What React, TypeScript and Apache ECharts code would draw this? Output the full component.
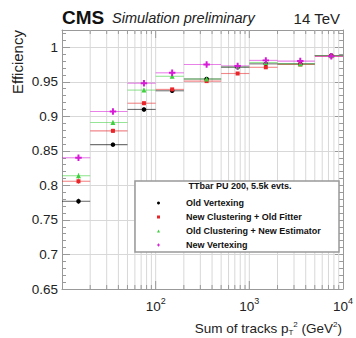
import React, { useEffect, useRef } from "react";
import * as echarts from "echarts";

// ---- data ----
const binLow = [10, 20, 50, 100, 200, 500, 1000, 2000, 5000];
const binHigh = [20, 50, 100, 200, 500, 1000, 2000, 5000, 10000];
const binCenter = [15, 35, 75, 150, 350, 750, 1500, 3500, 7500];

const oldVertexing = [0.777, 0.859, 0.91, 0.937, 0.954, 0.971, 0.976, 0.976, 0.988];
const newClusteringOldFitter = [0.806, 0.879, 0.919, 0.939, 0.951, 0.962, 0.971, 0.975, 0.987];
const oldClusteringNewEstimator = [0.814, 0.891, 0.938, 0.958, 0.954, 0.972, 0.978, 0.976, 0.988];
const newVertexing = [0.84, 0.907, 0.948, 0.963, 0.975, 0.973, 0.981, 0.98, 0.987];
const errY = [0.004, 0.003, 0.003, 0.002, 0.002, 0.002, 0.002, 0.002, 0.003];

const seriesNames = [
  "Old Vertexing",
  "New Clustering + Old Fitter",
  "Old Clustering + New Estimator",
  "New Vertexing",
];
const seriesValues = [oldVertexing, newClusteringOldFitter, oldClusteringNewEstimator, newVertexing];

const gridX = [20, 30, 40, 50, 60, 70, 80, 90, 100, 200, 300, 400, 500, 600, 700, 800, 900, 1000, 2000, 3000, 4000, 5000, 6000, 7000, 8000, 9000];
const xMin = 10;
const xMax = 10000;
const yMin = 0.65;
const yMax = 1.025;

const legendHeader = "TTbar PU 200, 5.5k evts.";

const FONT = "'Liberation Sans', Arial, Helvetica, sans-serif";

const colors = ["#000000", "#e8262a", "#3fcf3f", "#d61ad6"];
const starPath =
  "path://M-1,-0.3 L-0.3,-0.3 L-0.3,-1 L0.3,-1 L0.3,-0.3 L1,-0.3 L1,0.3 L0.3,0.3 L0.3,1 L-0.3,1 L-0.3,0.3 L-1,0.3 Z";
const symbols = ["circle", "rect", "triangle", starPath];
const symbolSizes = [4.5, 4, 5, 6.5];

export default function App() {
  const ref = useRef<HTMLDivElement>(null);
  useEffect(() => {
    if (!ref.current) return;
    const chart = echarts.init(ref.current, undefined, { renderer: "svg" });

    const errorSeries = seriesValues.map((vals, i) => ({
      type: "custom",
      name: "err" + i,
      coordinateSystem: "cartesian2d",
      silent: true,
      z: 3,
      data: vals.map((v, k) => [binLow[k], binHigh[k], v, errY[k], binCenter[k]]),
      encode: { x: [0, 1], y: 2 },
      renderItem: (params: any, api: any) => {
        const y = api.value(2);
        const e = api.value(3);
        const c = api.value(4);
        const lo = api.coord([api.value(0), y]);
        const hi = api.coord([api.value(1), y]);
        const t = api.coord([c, y + e]);
        const b = api.coord([c, y - e]);
        const style = { stroke: colors[i], lineWidth: 1.1, opacity: 0.55 };
        return {
          type: "group",
          children: [
            { type: "line", shape: { x1: lo[0], y1: lo[1], x2: hi[0], y2: hi[1] }, style },
            { type: "line", shape: { x1: t[0], y1: t[1], x2: b[0], y2: b[1] }, style },
          ],
        };
      },
    }));

    const pointSeries = seriesValues.map((vals, i) => ({
      type: "scatter",
      name: seriesNames[i],
      symbol: symbols[i],
      symbolSize: symbolSizes[i],
      itemStyle: { color: colors[i], opacity: 1 },
      z: 5 + i,
      data: vals.map((v, k) => [binCenter[k], v]),
    }));

    const gridSeries = {
      type: "custom",
      name: "grid",
      coordinateSystem: "cartesian2d",
      silent: true,
      z: 1,
      data: gridX.map((x) => [x, yMin]),
      encode: { x: 0, y: 1 },
      renderItem: (params: any, api: any) => {
        const x = api.value(0);
        const b = api.coord([x, yMin]);
        const t = api.coord([x, yMax]);
        const isMajor = x === 100 || x === 1000;
        const tl = isMajor ? 8 : 4;
        return {
          type: "group",
          children: [
            { type: "line", shape: { x1: b[0], y1: b[1], x2: t[0], y2: t[1] }, style: { stroke: "#d8d8d8", lineWidth: 1 } },
            { type: "line", shape: { x1: b[0], y1: b[1], x2: b[0], y2: b[1] - tl }, style: { stroke: "#999", lineWidth: 1 } },
            { type: "line", shape: { x1: t[0], y1: t[1], x2: t[0], y2: t[1] + tl }, style: { stroke: "#999", lineWidth: 1 } },
          ],
        };
      },
    };

    const yFmt = (v: number) => {
      const r = Math.round(v * 100) / 100;
      if (Math.abs(r * 20 - Math.round(r * 20)) > 1e-6) return "";
      return String(parseFloat(r.toFixed(2)));
    };

    const option: any = {
      animation: false,
      grid: { left: 62, right: 13, top: 30, bottom: 49, containLabel: false },
      xAxis: [
        {
          type: "log",
          logBase: 10,
          min: xMin,
          max: xMax,
          axisLine: { show: true, lineStyle: { color: "#999", width: 1 } },
          axisTick: { show: false },
          splitLine: { show: false },
          axisLabel: {
            margin: 7,
            formatter: (v: number) => {
              const e = Math.round(Math.log10(v));
              if (e < 2) return "";
              return "{b|10}{s|" + e + "}";
            },
            rich: {
              b: { fontSize: 13.5, fontFamily: FONT, color: "#222", verticalAlign: "bottom" },
              s: { fontSize: 9, fontFamily: FONT, color: "#222", verticalAlign: "top", padding: [0, 0, 8, 0] },
            },
            showMinLabel: false,
          },
        },
        {
          type: "log",
          logBase: 10,
          min: xMin,
          max: xMax,
          position: "top",
          axisLine: { show: true, lineStyle: { color: "#999", width: 1 } },
          axisTick: { show: false },
          axisLabel: { show: false },
          splitLine: { show: false },
        },
      ],
      yAxis: [
        {
          type: "value",
          min: yMin,
          max: yMax,
          interval: 0.05,
          axisLine: { show: true, lineStyle: { color: "#999", width: 1 } },
          axisTick: { show: true, inside: true, length: 8, lineStyle: { color: "#999" } },
          minorTick: { show: true, splitNumber: 5, length: 4, lineStyle: { color: "#999" } },
          splitLine: { show: true, lineStyle: { color: "#d8d8d8", width: 1 } },
          axisLabel: {
            formatter: yFmt,
            fontSize: 13.5,
            fontFamily: FONT,
            color: "#222",
            margin: 4,
            showMaxLabel: false,
          },
        },
        {
          type: "value",
          min: yMin,
          max: yMax,
          interval: 0.05,
          position: "right",
          axisLine: { show: true, lineStyle: { color: "#999", width: 1 } },
          axisTick: { show: true, inside: true, length: 8, lineStyle: { color: "#999" } },
          minorTick: { show: true, splitNumber: 5, length: 4, lineStyle: { color: "#999" } },
          splitLine: { show: false },
          axisLabel: { show: false },
        },
      ],
      legend: {
        data: seriesNames,
        orient: "vertical",
        left: 157,
        top: 198,
        padding: 0,
        z: 60,
        itemWidth: 3,
        itemHeight: 3,
        itemGap: 4,
        selectedMode: false,
        textStyle: {
          fontFamily: FONT,
          fontSize: 9,
          fontWeight: "bold",
          color: "#111",
          lineHeight: 10,
          padding: [0, 0, 0, 21],
        },
      },
      graphic: [
        {
          type: "rect",
          z: 50,
          shape: { x: 135, y: 181, width: 204, height: 71 },
          style: { fill: "#fff", stroke: "#999", lineWidth: 1.5 },
        },
        {
          type: "text",
          z: 51,
          x: 240,
          y: 186,
          style: {
            text: legendHeader,
            fontFamily: FONT,
            fontSize: 9,
            fontWeight: "bold",
            fill: "#111",
            textAlign: "center",
            textVerticalAlign: "middle",
          },
        },
        {
          type: "text",
          x: 62,
          y: 17,
          style: {
            text: "CMS",
            fontFamily: FONT,
            fontSize: 19,
            fontWeight: "bold",
            fill: "#111",
            textAlign: "left",
            textVerticalAlign: "middle",
          },
        },
        {
          type: "text",
          x: 112,
          y: 18,
          style: {
            text: "Simulation preliminary",
            fontFamily: FONT,
            fontSize: 14.5,
            fontStyle: "italic",
            fill: "#222",
            textAlign: "left",
            textVerticalAlign: "middle",
          },
        },
        {
          type: "text",
          x: 340,
          y: 18,
          style: {
            text: "14 TeV",
            fontFamily: FONT,
            fontSize: 15,
            fill: "#222",
            textAlign: "right",
            textVerticalAlign: "middle",
          },
        },
        {
          type: "text",
          x: 17,
          y: 62,
          rotation: Math.PI / 2,
          style: {
            text: "Efficiency",
            fontFamily: FONT,
            fontSize: 15,
            fill: "#222",
            textAlign: "center",
            textVerticalAlign: "middle",
          },
        },
        {
          type: "text",
          x: 342,
          y: 328,
          style: {
            text: "{n|Sum of tracks p}{sub|T}{sup|2}{n| (GeV}{sup|2}{n|)}",
            textAlign: "right",
            textVerticalAlign: "middle",
            rich: {
              n: { fontFamily: FONT, fontSize: 13.5, fill: "#222" },
              sub: { fontFamily: FONT, fontSize: 8, fill: "#222", padding: [8, 0, 0, 0] },
              sup: { fontFamily: FONT, fontSize: 8, fill: "#222", padding: [0, 0, 8, 0] },
            },
          },
        },
      ],
      series: [gridSeries, ...errorSeries, ...pointSeries],
    };

    chart.setOption(option);
    return () => chart.dispose();
  }, []);

  return (
    <div
      ref={ref}
      style={{ position: "fixed", left: 0, top: 0, width: 356, height: 338, background: "#fff" }}
    />
  );
}
